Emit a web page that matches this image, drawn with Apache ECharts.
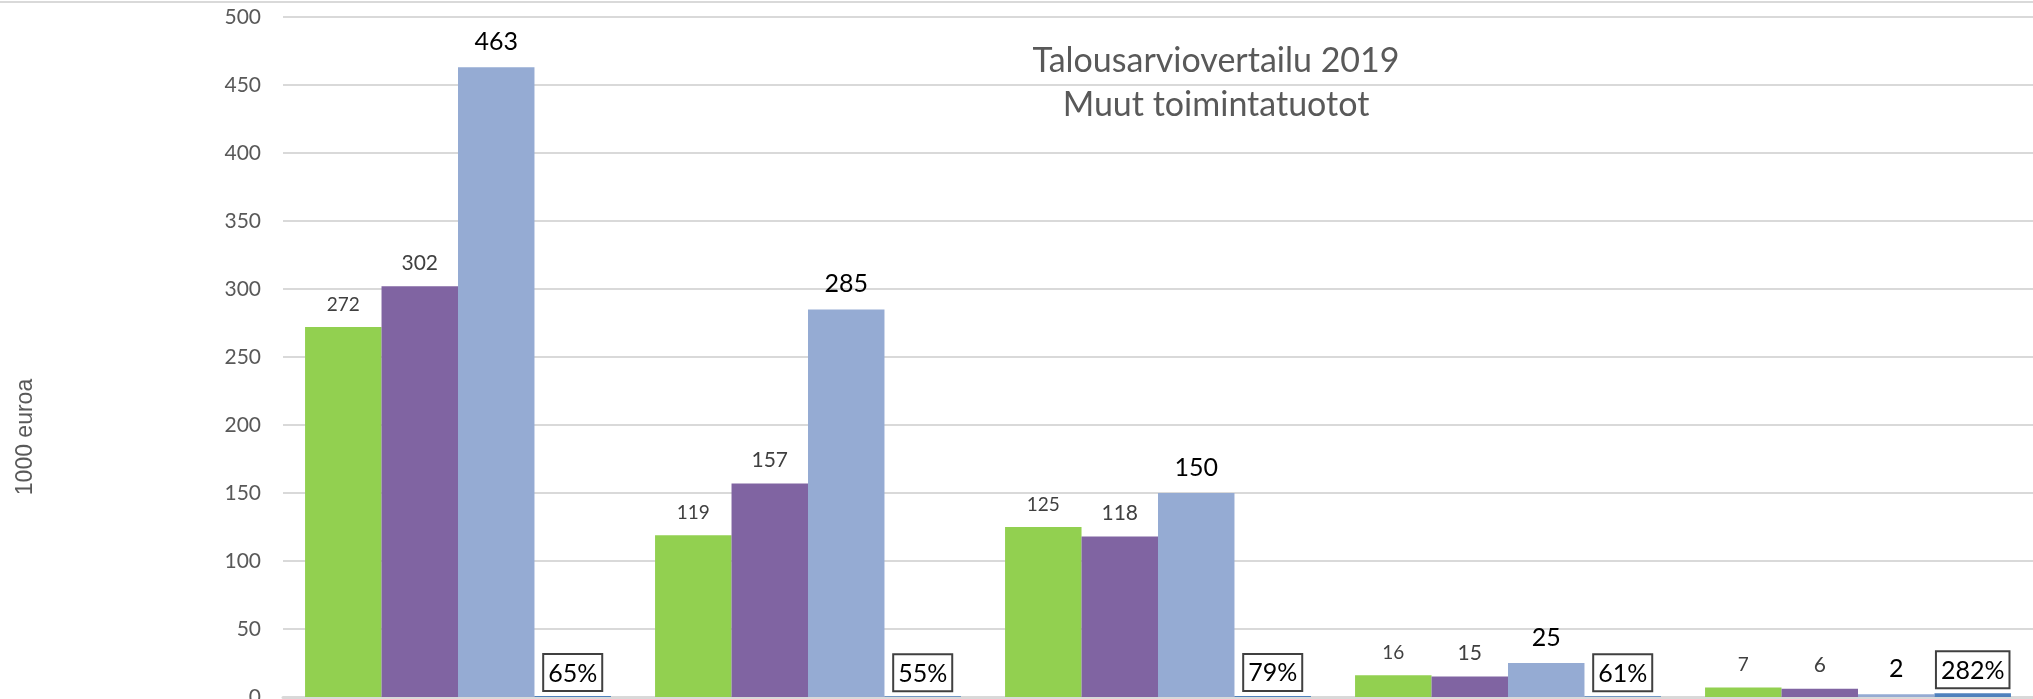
<!DOCTYPE html>
<html>
<head>
<meta charset="utf-8">
<script src="https://cdn.jsdelivr.net/npm/echarts@6/dist/echarts.min.js"></script>
<style>
  html, body { margin: 0; padding: 0; background: #fff; }
  #main { width: 2033px; height: 699px; }
</style>
</head>
<body>
<div id="main"></div>
<script>
// categories are cut off below the picture, so their labels are hidden
var categories = ['1', '2', '3', '4', '5']
var seriesGreen = [272, 119, 125, 16, 7]
var seriesPurple = [302, 157, 118, 15, 6]
var seriesBlue = [463, 285, 150, 25, 2]
// purple / blue ratio, drawn as a raw value (tiny bars)
var ratio = [0.65, 0.55, 0.79, 0.61, 2.82]

var font = 'Lato, "Open Sans", sans-serif'

var myChart = echarts.init(document.getElementById('main'))

myChart.setOption({
  animation: false,
  title: {
    text: 'Talousarviovertailu 2019\nMuut toimintatuotot',
    left: 1216,
    top: 39,
    padding: 0,
    textAlign: 'center',
    textStyle: { fontFamily: font, fontSize: 34, fontWeight: 'normal', color: '#595959', lineHeight: 44 }
  },
  graphic: [
    {
      type: 'line',
      shape: { x1: 0, y1: 2, x2: 2033, y2: 2 },
      style: { stroke: '#d9d9d9', lineWidth: 2 }
    },
    {
      type: 'text',
      x: 26,
      y: 437,
      rotation: Math.PI / 2,
      style: {
        text: '1000 euroa',
        fontFamily: '"Liberation Sans", Arial, sans-serif',
        fontSize: 23,
        fill: '#595959',
        align: 'center',
        verticalAlign: 'middle'
      }
    }
  ],
  grid: { left: 283, right: 0, top: 17, bottom: 2, containLabel: false, outerBoundsMode: 'none' },
  xAxis: {
    type: 'category',
    data: categories,
    axisLine: { lineStyle: { color: '#d9d9d9', width: 3 } },
    axisTick: { show: false },
    axisLabel: { show: false }
  },
  yAxis: {
    type: 'value',
    min: 0,
    max: 500,
    interval: 50,
    axisLine: { show: false },
    axisTick: { show: false },
    axisLabel: { fontFamily: font, fontSize: 21, color: '#595959', margin: 22 },
    splitLine: { lineStyle: { color: '#d9d9d9', width: 2 } }
  },
  series: [
    {
      type: 'bar',
      data: seriesGreen,
      barGap: '0%',
      barCategoryGap: '12.6%',
      itemStyle: { color: '#92d050' },
      label: { show: true, position: 'top', distance: 13, fontFamily: font, fontSize: 19, color: '#404040' }
    },
    {
      type: 'bar',
      data: seriesPurple,
      itemStyle: { color: '#8064a2' },
      label: { show: true, position: 'top', distance: 13, fontFamily: font, fontSize: 21, color: '#404040' }
    },
    {
      type: 'bar',
      data: seriesBlue,
      itemStyle: { color: '#95abd3' },
      label: { show: true, position: 'top', distance: 13, fontFamily: font, fontSize: 25, color: '#000' }
    },
    {
      type: 'bar',
      data: ratio,
      itemStyle: { color: '#4f81bd' },
      label: {
        show: true,
        position: 'top',
        distance: 6,
        fontFamily: font,
        fontSize: 25,
        color: '#000',
        backgroundColor: '#fff',
        borderColor: '#404040',
        borderWidth: 2,
        padding: [6, 4, 4, 4],
        formatter: function (p) { return Math.round(p.value * 100) + '%' }
      }
    }
  ]
})
</script>
</body>
</html>
